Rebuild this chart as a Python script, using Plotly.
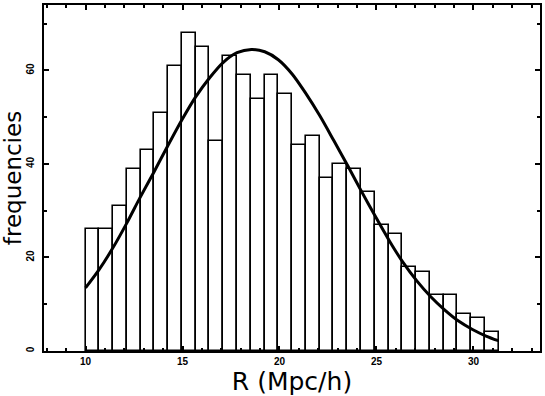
import numpy as np
import plotly.graph_objects as go

# Histogram data
bin_start = 10.0
bin_width = 0.71
counts = [26, 26, 31, 39, 43, 51, 61, 68, 65, 45,
          63, 59, 54, 59, 55, 44, 46, 37, 40, 39,
          34, 27, 25, 18, 17, 12, 12, 8, 7, 4]

# Fitted curve
curve_x = [10.0, 10.70, 11.39, 12.12, 12.81, 13.53, 14.23, 14.95, 15.67, 16.39,
           17.09, 17.81, 18.55, 19.24, 19.94, 20.66, 21.34, 22.08, 22.80, 23.52,
           24.22, 24.94, 25.66, 26.36, 27.08, 27.80, 28.51, 29.23, 29.95, 30.65, 31.28]
curve_y = [13.5, 17.4, 21.9, 27.3, 32.8, 38.3, 43.8, 49.3, 54.3, 58.4,
           61.7, 63.8, 64.5, 64.0, 62.3, 59.2, 55.2, 50.3, 45.0, 39.6,
           34.2, 28.8, 23.6, 19.0, 15.0, 11.6, 8.8, 6.4, 4.6, 3.2, 2.2]

x_tickvals = [10, 15, 20, 25, 30]
y_tickvals = [0, 20, 40, 60]

centers = bin_start + bin_width * (np.arange(len(counts)) + 0.5)

fig = go.Figure()
fig.add_trace(go.Bar(
    x=centers, y=counts, width=bin_width,
    marker=dict(color="white", line=dict(color="black", width=1.6)),
    showlegend=False, hoverinfo="skip",
))
fig.add_trace(go.Scatter(
    x=curve_x, y=curve_y, mode="lines",
    line=dict(color="black", width=3, shape="spline", smoothing=0.8),
    showlegend=False, hoverinfo="skip",
))

tickfont = dict(family="Liberation Sans", size=10, color="black", weight="bold")

fig.update_layout(
    width=545, height=396,
    margin=dict(l=44, r=3, t=4, b=45),
    paper_bgcolor="white", plot_bgcolor="white",
    bargap=0,
    xaxis=dict(
        range=[7.86, 33.43], tickvals=x_tickvals, ticktext=[str(v) for v in x_tickvals],
        ticks="inside", ticklen=5, tickwidth=1.5, tickcolor="black",
        minor=dict(dtick=1, tick0=0, ticks="inside", ticklen=3, tickwidth=1.5, tickcolor="black"),
        showline=True, linecolor="black", linewidth=2, mirror="ticks",
        showgrid=False, zeroline=False, tickfont=tickfont,
        title=dict(text="R (Mpc/h)", font=dict(family="DejaVu Sans", size=25, color="black"),
                   standoff=2),
    ),
    yaxis=dict(
        range=[0, 74], tickvals=y_tickvals, ticktext=[str(v) for v in y_tickvals],
        tickangle=-90, ticklabelstandoff=4,
        ticks="inside", ticklen=5, tickwidth=1.5, tickcolor="black",
        minor=dict(dtick=10, tick0=0, ticks="inside", ticklen=3, tickwidth=1.5, tickcolor="black"),
        showline=True, linecolor="black", linewidth=2, mirror="ticks",
        showgrid=False, zeroline=False, tickfont=tickfont,
        title=dict(text="frequencies", font=dict(family="DejaVu Sans", size=23, color="black"),
                   standoff=2),
    ),
)

fig.write_html("out.html",
               config={"displayModeBar": False},
               post_script="document.body.style.margin='0';document.body.style.overflow='hidden';")
